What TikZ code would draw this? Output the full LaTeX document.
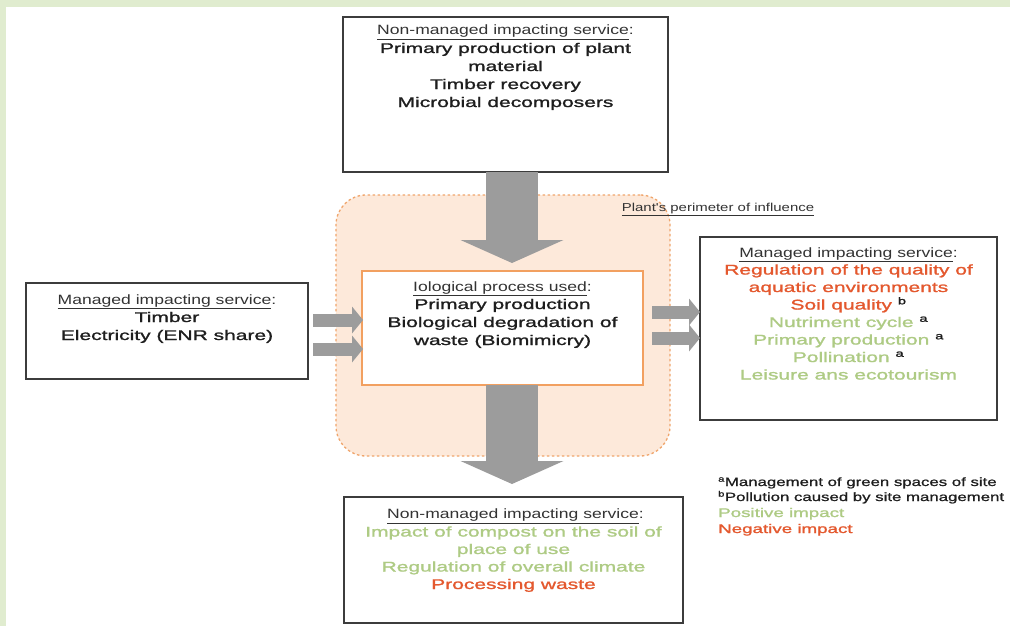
\documentclass[tikz,border=0pt]{standalone}
\usepackage{fontspec}
\setmainfont{Liberation Sans}
\newfontfamily\hdf[FakeStretch=1.3]{Liberation Sans}
\newfontfamily\bdf[FakeStretch=1.5,FakeBold=1.4]{Liberation Sans}
\newfontfamily\lgf[FakeStretch=1.4,FakeBold=1]{Liberation Sans}
\usetikzlibrary{arrows.meta,calc}
\definecolor{bggreen}{HTML}{E0ECCF}
\definecolor{boxline}{HTML}{3C3C3C}
\definecolor{peach}{HTML}{FDE9DA}
\definecolor{peachline}{HTML}{F0A56C}
\definecolor{orbox}{HTML}{F2A060}
\definecolor{arrgray}{HTML}{9C9C9C}
\definecolor{txtred}{HTML}{E4582E}
\definecolor{txtgreen}{HTML}{AECB84}
\definecolor{txtblack}{HTML}{1E1E1E}
\definecolor{hdgray}{HTML}{333333}
\newcommand\supmark[1]{\textsuperscript{\color{txtblack}#1}}
\begin{document}
\begin{tikzpicture}[x=1pt,y=-1pt,
  box/.style={draw=boxline,line width=1.8pt,fill=white,inner sep=0pt,outer sep=0pt},
  hd/.style={anchor=base,inner sep=0pt,text=hdgray,font=\hdf\fontsize{13.5}{16}\selectfont},
  bd/.style={anchor=base,inner sep=0pt,text=txtblack,font=\bdf\fontsize{14}{17}\selectfont},
  rd/.style={bd,text=txtred},
  gn/.style={bd,text=txtgreen},
  lg/.style={anchor=base west,inner sep=0pt,text=txtblack,font=\lgf\fontsize{12}{14}\selectfont},
  lgc/.style={anchor=base west,inner sep=0pt,font=\bdf\fontsize{12.5}{14}\selectfont},
  bigarrow/.style={draw=arrgray,line width=52pt,-{Triangle[width=103pt,length=23pt,line width=0pt]}},
  smallarrow/.style={draw=arrgray,line width=13pt,-{Triangle[width=27pt,length=11pt,line width=0pt]}}
]
\useasboundingbox (0,0) rectangle (1010,626);
\fill[bggreen] (0,0) rectangle (1010,626);
\fill[white] (6,7) rectangle (1010,626);

% region of influence
\node[draw=peachline,fill=peach,line width=1.3pt,dash pattern=on 2.5pt off 2.5pt,rounded corners=30pt,
      minimum width=334pt,minimum height=261pt,inner sep=0pt] (region) at (503,325.5) {};
\node[anchor=base west,inner sep=0pt,text=hdgray,font=\hdf\fontsize{11.5}{14}\selectfont]
      (plbl) at ($(region.north east)+(-49,17)$) {\underline{Plant's perimeter of influence}};

% boxes
\node[box,minimum width=325pt,minimum height=155pt] (top) at (505.5,94.5) {};
\node[box,draw=orbox,line width=1.5pt,minimum width=281pt,minimum height=114pt] (center) at (502.5,328) {};
\node[box,minimum width=282pt,minimum height=96pt] (left) at (167,331) {};
\node[box,minimum width=297pt,minimum height=183pt] (right) at (848.5,328.5) {};
\node[box,minimum width=339pt,minimum height=126pt] (bottom) at (513.5,560) {};

% top box text
\node[hd] (t0) at ($(top.north)+(0,18)$) {\underline{Non-managed impacting service}:};
\node[bd] (t1) at ($(top.north)+(0,36)$) {Primary production of plant};
\node[bd] (t2) at ($(top.north)+(0,54)$) {material};
\node[bd] (t3) at ($(top.north)+(0,72)$) {Timber recovery};
\node[bd] (t4) at ($(top.north)+(0,90)$) {Microbial decomposers};

% center box text
\node[hd] (c0) at ($(center.north)+(0,20)$) {\underline{Iological process used}:};
\node[bd] (c1) at ($(center.north)+(0,38)$) {Primary production};
\node[bd] (c2) at ($(center.north)+(0,56)$) {Biological degradation of};
\node[bd] (c3) at ($(center.north)+(0,74)$) {waste (Biomimicry)};

% left box text
\node[hd] (l0) at ($(left.north)+(0,21)$) {\underline{Managed impacting service}:};
\node[bd] (l1) at ($(left.north)+(0,39)$) {Timber};
\node[bd] (l2) at ($(left.north)+(0,57)$) {Electricity (ENR share)};

% right box text
\node[hd] (r0) at ($(right.north)+(0,20)$) {\underline{Managed impacting service}:};
\node[rd] (r1) at ($(right.north)+(0,37.5)$) {Regulation of the quality of};
\node[rd] (r2) at ($(right.north)+(0,55)$) {aquatic environments};
\node[rd] (r3) at ($(right.north)+(0,72.5)$) {Soil quality \supmark{b}};
\node[gn] (r4) at ($(right.north)+(0,90)$) {Nutriment cycle \supmark{a}};
\node[gn] (r5) at ($(right.north)+(0,107.5)$) {Primary production \supmark{a}};
\node[gn] (r6) at ($(right.north)+(0,125)$) {Pollination \supmark{a}};
\node[gn] (r7) at ($(right.north)+(0,142.5)$) {Leisure ans ecotourism};

% bottom box text
\node[hd] (b0) at ($(bottom.north)+(2,21.5)$) {\underline{Non-managed impacting service}:};
\node[gn] (b1) at ($(bottom.north)+(0,39.5)$) {Impact of compost on the soil of};
\node[gn] (b2) at ($(bottom.north)+(0,57)$) {place of use};
\node[gn] (b3) at ($(bottom.north)+(0,74.5)$) {Regulation of overall climate};
\node[rd] (b4) at ($(bottom.north)+(0,92)$) {Processing waste};

% legend
\node[lg] (g1) at (718,486) {\textsuperscript{a}Management of green spaces of site};
\node[lg] (g2) at (718,501) {\textsuperscript{b}Pollution caused by site management};
\node[lgc,text=txtgreen] (g3) at (718,517) {Positive impact};
\node[lgc,text=txtred] (g4) at (718,533) {Negative impact};

% arrows
\draw[bigarrow] ($(top.south)+(6.5,0)$) -- ($(center.north)+(9.5,-8)$);
\draw[bigarrow] ($(center.south)+(9.5,0)$) -- ($(bottom.north)+(-1.5,-13)$);
\draw[smallarrow] ($(left.east)+(5,-11)$) -- ($(center.west)+(1,-8)$);
\draw[smallarrow] ($(left.east)+(5,18)$) -- ($(center.west)+(1,21)$);
\draw[smallarrow] ($(center.east)+(9,-16)$) -- ($(right.west)+(0,-16.5)$);
\draw[smallarrow] ($(center.east)+(9,10)$) -- ($(right.west)+(0,9.5)$);
\end{tikzpicture}
\end{document}
